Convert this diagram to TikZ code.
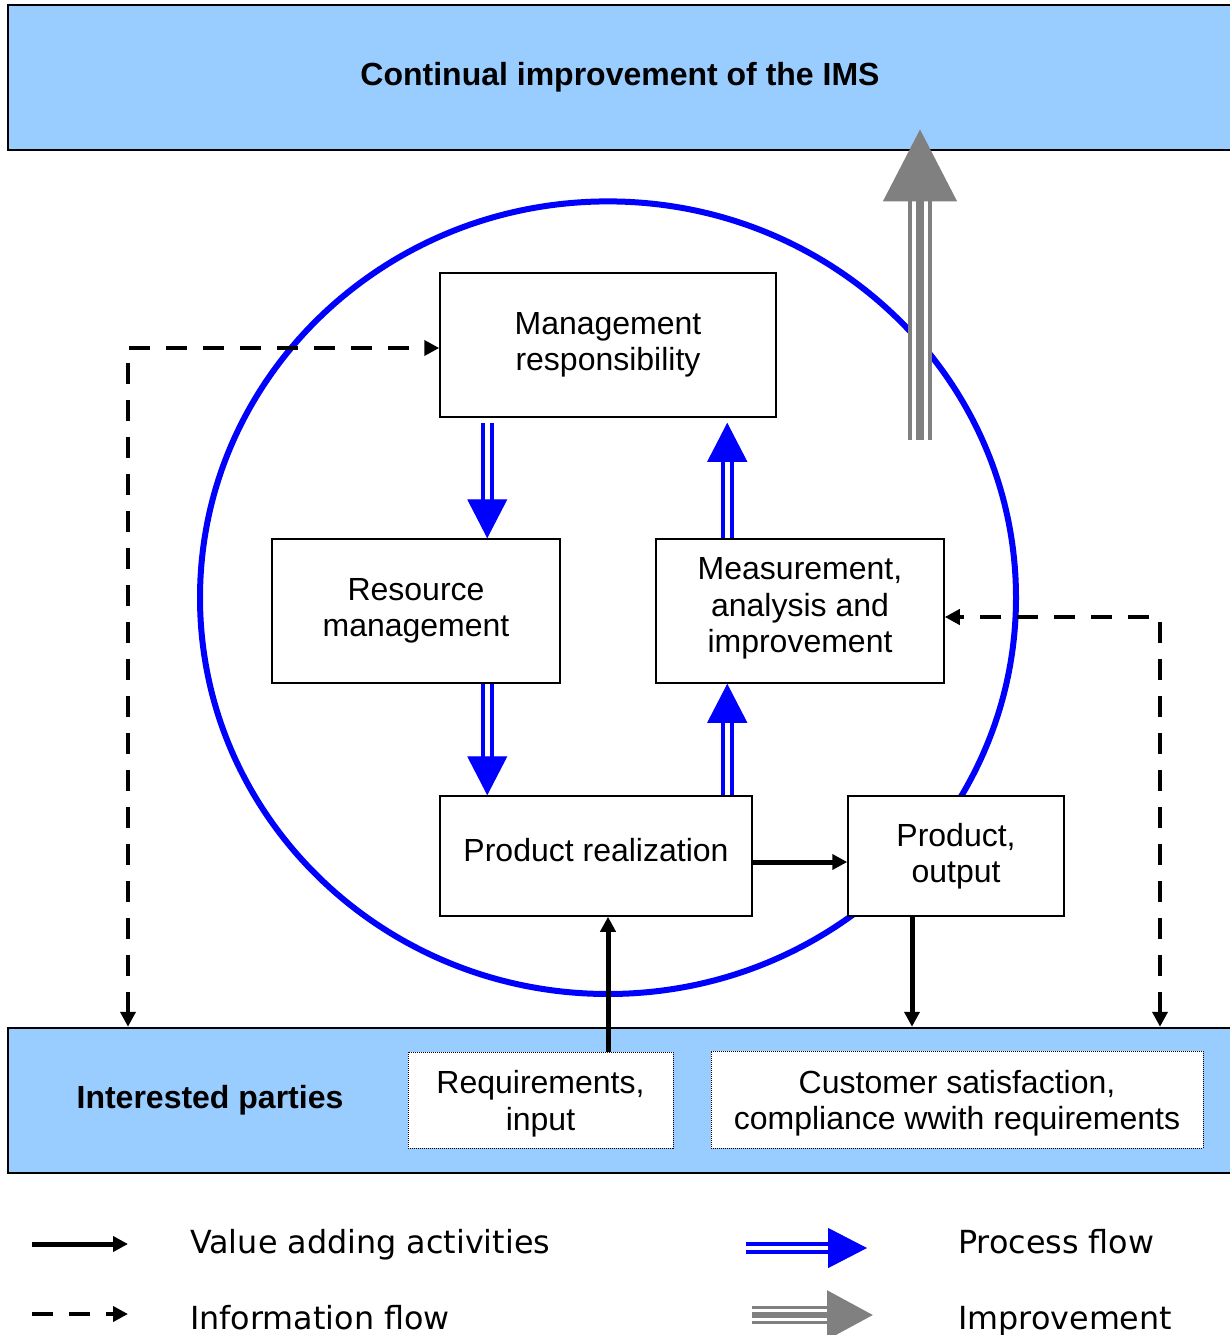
\documentclass[tikz,border=0pt]{standalone}
\usepackage{fontspec}
\setmainfont{Liberation Sans}
\newfontfamily\legendfont{DejaVu Sans}
\usetikzlibrary{arrows.meta,calc}
\definecolor{bandblue}{HTML}{99CCFF}
\definecolor{pblue}{HTML}{0000FF}
\definecolor{igray}{HTML}{808080}
\begin{document}
\begin{tikzpicture}[x=1pt,y=-1pt,
  band/.style={draw=black, line width=2.5pt, fill=bandblue, minimum width=1224pt, minimum height=145pt, inner sep=0pt, font=\bfseries\fontsize{32}{36}\selectfont},
  boldtext/.style={inner sep=0pt, font=\bfseries\fontsize{32}{36}\selectfont},
  box/.style={draw=black, line width=1.5pt, fill=white, inner sep=0pt, align=center, font=\fontsize{32}{36.5}\selectfont},
  boxtext/.style={inner sep=0pt, align=center, font=\fontsize{32}{36.5}\selectfont},
  dotbox/.style={draw=black, line width=1pt, dash pattern=on 1pt off 1pt, fill=white, inner sep=0pt},
  value/.style={draw=black, line width=5pt, -{Triangle[width=15pt,length=15pt]}},
  info/.style={draw=black, line width=4.5pt, dash pattern=on 21pt off 16pt, {Triangle[width=15pt,length=15pt]}-{Triangle[width=15pt,length=15pt]}},
  infoone/.style={draw=black, line width=4.5pt, dash pattern=on 21pt off 16pt, -{Triangle[width=15pt,length=15pt]}},
  procflow/.style={draw=none,
    postaction={draw=pblue, line width=4pt, double=white, double distance=4.5pt, shorten >=36pt},
    postaction={draw=white, line width=1pt, shorten <=55pt, -{Triangle[width=40pt,length=39pt,color=pblue,fill=pblue]}}},
  improve/.style={draw=none,
    postaction={draw=igray, line width=4pt, double=white, double distance=16pt, shorten >=69pt},
    postaction={draw=igray, line width=8pt, -{Triangle[width=72pt,length=72pt]}}},
  improvesmall/.style={draw=none,
    postaction={draw=igray, line width=3pt, double=white, double distance=12pt, shorten >=43pt},
    postaction={draw=igray, line width=6pt, -{Triangle[width=48pt,length=46pt]}}},
  legend/.style={inner sep=0pt, anchor=base west, font=\legendfont\fontsize{31.8}{36}\selectfont}
]
\useasboundingbox (0,0) rectangle (1230,1335);

% bands
\node[band] (title) at (620,77.5) {Continual improvement of the IMS};
\node[band] (parties) at (620,1100.5) {};
\node[boldtext] (ip) at (210,1100) {Interested parties};

% circle
\coordinate (cyc) at (608,597.7);
\draw[pblue, line width=6pt] (cyc) ellipse [x radius=408, y radius=396.3];

% boxes
\node[box, minimum width=336pt, minimum height=144pt] (mgmt) at (608,345) {Management\\responsibility};
\node[box, minimum width=288pt, minimum height=144pt] (res) at (416,611) {Resource\\management};
\node[box, minimum width=288pt, minimum height=144pt] (meas) at (800,611) {};
\node[boxtext] (meast) at (800,608.5) {Measurement,\\analysis and\\improvement};
\node[box, minimum width=312pt, minimum height=120pt, text height=23pt, text depth=12.6pt] (pr) at (596,856) {Product realization};
\node[box, minimum width=216pt, minimum height=120pt] (po) at (956,856) {Product,\\output};
\node[dotbox, minimum width=265pt, minimum height=96pt] (req) at (540.5,1100) {};
\node[boxtext] (reqt) at (540.5,1103.5) {Requirements,\\input};
\node[dotbox, minimum width=492pt, minimum height=97pt] (cust) at (957,1099.5) {};
\node[boxtext] (custt) at (957,1103) {Customer satisfaction,\\compliance wwith requirements};

% process flow
\coordinate (b1) at ($(mgmt.south west)+(48,0)$);
\coordinate (b2) at ($(meas.south west)+(72,0)$);
\draw[procflow] ($(b1)+(0,5)$) -- (b1 |- res.north);
\draw[procflow] (b1 |- res.south) -- (b1 |- pr.north);
\draw[procflow] (b2 |- pr.north) -- (b2);
\draw[procflow] (b2 |- meas.north) -- ($(b2 |- mgmt.south)+(0,5)$);

% value adding
\draw[value] ($(pr.east)+(0,6)$) -- ($(po.west)+(0,6)$);
\draw[value] (req.north -| cyc) -- (pr.south -| cyc);
\coordinate (po1) at ($(po.south)+(-44,0)$);
\draw[value] (po1) -- (po1 |- parties.north);

% information flow
\coordinate (lx) at (128,348);
\coordinate (rx) at (1160,617);
\draw[info] (parties.north -| lx) |- ($(mgmt.west)+(0,3)$);
\draw[info] (parties.north -| rx) |- ($(meas.east)+(0,6)$);

% improvement
\coordinate (imp) at (920,440);
\coordinate (imptip) at ($(title.south -| imp)+(0,-22)$);
\draw[improve] (imp) -- (imptip);

% legend
\coordinate (la1) at (32,1244); \coordinate (la2) at (128,1244);
\coordinate (lb1) at (32,1314); \coordinate (lb2) at (128,1314);
\coordinate (lc1) at (746,1248); \coordinate (lc2) at (867,1248);
\coordinate (ld1) at (752,1315); \coordinate (ld2) at (873,1315);
\draw[value] (la1) -- (la2);
\draw[infoone] (lb1) -- (lb2);
\draw[procflow] (lc1) -- (lc2);
\draw[improvesmall] (ld1) -- (ld2);
\node[legend] (t1) at (190,1253) {Value adding activities};
\node[legend] (t2) at (190,1329) {Information flow};
\node[legend] (t3) at (958,1253) {Process flow};
\node[legend] (t4) at (958,1329) {Improvement};
\end{tikzpicture}
\end{document}
